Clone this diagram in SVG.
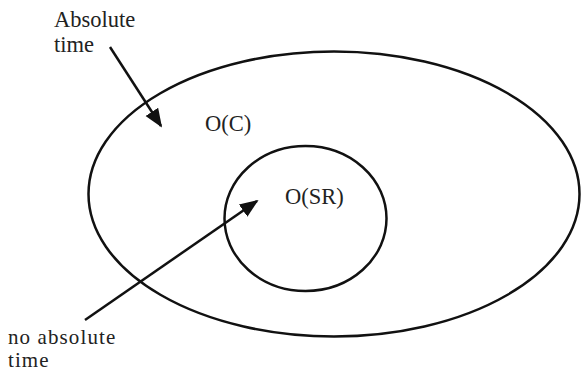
<svg xmlns="http://www.w3.org/2000/svg" width="581" height="372" viewBox="0 0 581 372">
  <style>
    .set { fill: none; stroke: #111; stroke-width: 2.5; }
    .lbl { font-family: "Liberation Serif", "Times New Roman", serif; font-size: 22.5px; fill: #222; }
    .small { font-size: 21px; letter-spacing: 1.1px; }
    .arrow { stroke: #111; stroke-width: 2.5; fill: none; marker-end: url(#head); }
  </style>
  <defs>
    <marker id="head" viewBox="0 0 10 10" refX="9" refY="5" markerWidth="7.5" markerHeight="7.5" markerUnits="strokeWidth" orient="auto">
      <path d="M0,1 L10,5 L0,9 z" fill="#111"/>
    </marker>
  </defs>
  <rect width="581" height="372" fill="#fff"/>

  <g id="outer-set">
    <ellipse class="set" cx="334" cy="194" rx="245.5" ry="142.5"/>
    <text class="lbl" x="205" y="131">O(C)</text>
  </g>

  <g id="inner-set">
    <ellipse class="set" cx="305.5" cy="218.5" rx="81" ry="72.5"/>
    <text class="lbl" x="285" y="204">O(SR)</text>
  </g>

  <g id="label-absolute">
    <text class="lbl" x="54" y="27">Absolute</text>
    <text class="lbl" x="54" y="52">time</text>
  </g>

  <g id="label-no-absolute">
    <text class="lbl small" x="8" y="344">no absolute</text>
    <text class="lbl small" x="8" y="367">time</text>
  </g>

  <g id="connectors">
    <line class="arrow" x1="110" y1="47" x2="161" y2="126"/>
    <line class="arrow" x1="85" y1="320" x2="257" y2="201"/>
  </g>
</svg>
